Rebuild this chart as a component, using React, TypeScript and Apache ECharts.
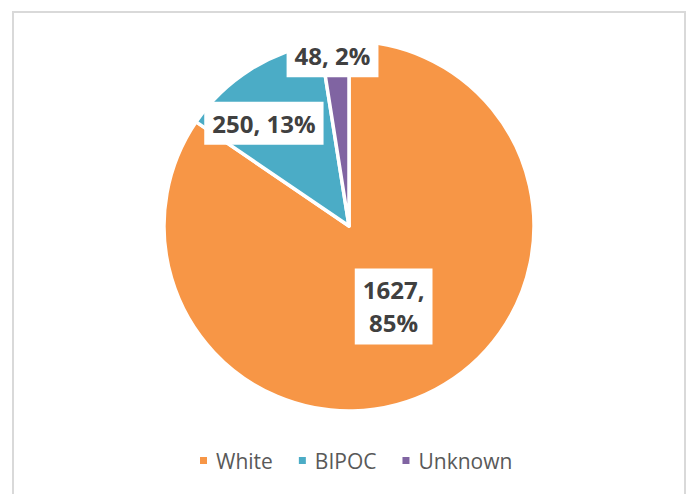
import React, { useEffect, useRef } from "react";
import * as echarts from "echarts";

const categories = ["White", "BIPOC", "Unknown"];
const values = [1627, 250, 48];
const colors = ["#F79646", "#4BACC6", "#8064A2"];
// label nudges from the default inside position (style, not data)
const labelNudges = [
  [0, -4],
  [-34, -22],
  [-9, -75],
];

export default function App() {
  const ref = useRef<HTMLDivElement>(null);
  useEffect(() => {
    if (!ref.current) return;
    const chart = echarts.init(ref.current, null, { renderer: "svg" });
    chart.setOption({
      animation: false,
      backgroundColor: "#ffffff",
      graphic: [
        {
          type: "rect",
          shape: { x: 13, y: 12, width: 672, height: 500 },
          style: { fill: "none", stroke: "#d9d9d9", lineWidth: 2 },
          silent: true,
        },
      ],
      legend: {
        data: categories,
        left: 193,
        top: 445,
        icon: "rect",
        itemWidth: 9,
        itemHeight: 9,
        itemGap: 24,
        textStyle: {
          color: "#595959",
          fontSize: 21,
          fontFamily: "Open Sans",
          padding: [0, 0, 0, 3],
        },
      },
      series: [
        {
          type: "pie",
          center: [349, 226],
          radius: 185,
          startAngle: 90,
          clockwise: true,
          percentPrecision: 0,
          itemStyle: { borderColor: "#ffffff", borderWidth: 3.5 },
          label: {
            show: true,
            position: "inside",
            color: "#404040",
            fontWeight: "bold",
            fontSize: 24,
            fontFamily: "Open Sans",
            lineHeight: 33,
            backgroundColor: "#ffffff",
            padding: [5, 8],
            formatter: (p: any) =>
              p.dataIndex === 0 ? `${p.value},\n${p.percent}%` : `${p.value}, ${p.percent}%`,
          },
          labelLayout: (p: any) => ({
            dx: labelNudges[p.dataIndex][0],
            dy: labelNudges[p.dataIndex][1],
          }),
          labelLine: { show: false },
          emphasis: { disabled: true },
          data: categories.map((name, i) => ({
            name,
            value: values[i],
            itemStyle: { color: colors[i] },
          })),
        },
      ],
    });
    return () => chart.dispose();
  }, []);
  return (
    <div
      ref={ref}
      style={{ position: "fixed", left: 0, top: 0, width: 691, height: 494 }}
    />
  );
}
